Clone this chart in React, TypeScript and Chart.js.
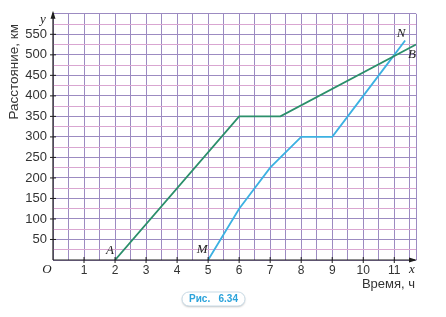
import { useEffect, useRef } from "react";
import { Chart, registerables } from "chart.js";

Chart.register(...registerables);

// Car A (green) — time, h / distance, km
const greenTime = [2, 6, 7.33, 11.7];
const greenDist = [0, 350, 350, 525];
// Car M (blue)
const blueTime = [5, 6, 7, 8, 9, 10, 11, 11.35];
const blueDist = [0, 125, 225, 300, 300, 400, 500, 535];

const xTickLabels = ["1", "2", "3", "4", "5", "6", "7", "8", "9", "10", "11"];
const yTickLabels = ["50", "100", "150", "200", "250", "300", "350", "400", "450", "500", "550"];

const X_MAX = 11.7;
const Y_MAX = 600;

const SANS = "'Liberation Sans', Arial, sans-serif";
const SERIF = "'Liberation Serif', 'DejaVu Serif', serif";

const overlay = {
  id: "overlay",
  afterDraw(chart: any) {
    const { ctx, chartArea } = chart;
    const xs = chart.scales.x;
    const ys = chart.scales.y;
    const px = (v: number) => xs.getPixelForValue(v);
    const py = (v: number) => ys.getPixelForValue(v);
    const x0 = px(0);
    const y0 = py(0);
    ctx.save();
    ctx.strokeStyle = "#1e1e1e";
    ctx.fillStyle = "#1e1e1e";
    ctx.lineWidth = 1.2;
    // x axis
    ctx.beginPath();
    ctx.moveTo(x0, y0);
    ctx.lineTo(chartArea.right - 1, y0);
    ctx.stroke();
    ctx.beginPath();
    ctx.moveTo(chartArea.right + 1, y0);
    ctx.lineTo(chartArea.right - 7, y0 - 2.5);
    ctx.lineTo(chartArea.right - 7, y0 + 2.5);
    ctx.closePath();
    ctx.fill();
    // y axis
    ctx.beginPath();
    ctx.moveTo(x0, y0);
    ctx.lineTo(x0, chartArea.top - 1);
    ctx.stroke();
    ctx.beginPath();
    ctx.moveTo(x0, chartArea.top - 3);
    ctx.lineTo(x0 - 2.5, chartArea.top + 5);
    ctx.lineTo(x0 + 2.5, chartArea.top + 5);
    ctx.closePath();
    ctx.fill();
    // tick marks
    ctx.lineWidth = 1;
    xTickLabels.forEach((t) => {
      const p = px(Number(t));
      ctx.beginPath();
      ctx.moveTo(p, y0 - 3);
      ctx.lineTo(p, y0 + 3);
      ctx.stroke();
    });
    yTickLabels.forEach((t) => {
      const p = py(Number(t));
      ctx.beginPath();
      ctx.moveTo(x0 - 3, p);
      ctx.lineTo(x0 + 3, p);
      ctx.stroke();
    });
    // italic letters
    ctx.fillStyle = "#222";
    ctx.font = `italic 13px ${SERIF}`;
    ctx.textBaseline = "middle";
    ctx.textAlign = "center";
    ctx.fillText("O", x0 - 6, y0 + 10);
    ctx.fillText("x", chartArea.right - 4, y0 + 10);
    ctx.fillText("y", x0 - 10, chartArea.top + 6);
    ctx.fillText("A", px(greenTime[0]) - 5, y0 - 9);
    ctx.fillText("M", px(blueTime[0]) - 6, y0 - 10);
    ctx.fillText("N", px(blueTime[blueTime.length - 1]) - 4, py(blueDist[blueDist.length - 1]) - 7);
    ctx.fillText("B", chartArea.right - 4, py(greenDist[greenDist.length - 1]) + 10);
    // axis titles
    ctx.fillStyle = "#333";
    ctx.font = `13px ${SANS}`;
    ctx.textAlign = "right";
    ctx.fillText("Время, ч", chartArea.right - 1, y0 + 24);
    ctx.save();
    ctx.translate(14, chartArea.top + 58);
    ctx.rotate(-Math.PI / 2);
    ctx.textAlign = "center";
    ctx.font = `13.5px ${SANS}`;
    ctx.fillText("Расстояние, км", 0, 0);
    ctx.restore();
    // caption badge
    const bx = 182, by = 292, bw = 63, bh = 14, r = 7;
    ctx.save();
    ctx.shadowColor = "rgba(0,0,0,0.25)";
    ctx.shadowBlur = 2;
    ctx.shadowOffsetY = 1;
    ctx.fillStyle = "#ffffff";
    ctx.beginPath();
    ctx.moveTo(bx + r, by);
    ctx.lineTo(bx + bw - r, by);
    ctx.arc(bx + bw - r, by + r, r, -Math.PI / 2, Math.PI / 2);
    ctx.lineTo(bx + r, by + bh);
    ctx.arc(bx + r, by + r, r, Math.PI / 2, (3 * Math.PI) / 2);
    ctx.closePath();
    ctx.fill();
    ctx.restore();
    ctx.strokeStyle = "#c9dbe6";
    ctx.lineWidth = 1;
    ctx.stroke();
    ctx.fillStyle = "#2ba3db";
    ctx.font = `bold 10px ${SANS}`;
    ctx.textAlign = "left";
    ctx.fillText("Рис.   6.34", bx + 7, by + bh / 2 + 0.5);
    ctx.restore();
  },
};

export default function App() {
  const ref = useRef<HTMLCanvasElement | null>(null);
  useEffect(() => {
    if (!ref.current) return;
    const chart = new Chart(ref.current, {
      type: "line",
      data: {
        datasets: [
          {
            data: greenTime.map((t, i) => ({ x: t, y: greenDist[i] })),
            borderColor: "#2b8f6b",
            borderWidth: 1.8,
            pointRadius: 0,
            tension: 0,
            fill: false,
          },
          {
            data: blueTime.map((t, i) => ({ x: t, y: blueDist[i] })),
            borderColor: "#3cb1e2",
            borderWidth: 1.8,
            pointRadius: 0,
            tension: 0,
            fill: false,
          },
        ],
      },
      options: {
        animation: false,
        responsive: false,
        events: [],
        layout: { padding: { left: 0, right: 30, top: 10, bottom: 37 } },
        plugins: { legend: { display: false }, tooltip: { enabled: false } },
        scales: {
          x: {
            type: "linear",
            min: 0,
            max: X_MAX,
            afterBuildTicks: (s: any) => {
              const arr: any[] = [];
              for (let v = 0; v <= 11.5; v += 0.5) arr.push({ value: v });
              arr.push({ value: X_MAX });
              s.ticks = arr;
            },
            afterFit: (s: any) => {
              s.height = 20;
            },
            border: { display: false },
            grid: {
              drawTicks: false,
              color: "#9c8bc1",
              lineWidth: 1,
            },
            ticks: {
              autoSkip: false,
              maxRotation: 0,
              padding: 3,
              color: "#333",
              font: { family: SANS, size: 12 },
              callback: (v: any) => (xTickLabels.includes(String(v)) ? String(v) : ""),
            },
          },
          y: {
            type: "linear",
            min: 0,
            max: Y_MAX,
            afterFit: (s: any) => {
              s.width = 53;
            },
            border: { display: false },
            grid: {
              drawTicks: false,
              color: (c: any) => (c.tick && c.tick.value % 50 === 0 ? "#9c8bc1" : "#d9a6d1"),
              lineWidth: 1,
            },
            ticks: {
              stepSize: 25,
              autoSkip: false,
              padding: 6,
              color: "#333",
              font: { family: SANS, size: 13 },
              callback: (v: any) => (yTickLabels.includes(String(v)) ? String(v) : ""),
            },
          },
        },
      },
      plugins: [overlay],
    } as any);
    return () => chart.destroy();
  }, []);
  return (
    <div style={{ position: "fixed", left: 0, top: 0, width: 446, height: 317, background: "#fff" }}>
      <canvas ref={ref} width={446} height={317} />
    </div>
  );
}
